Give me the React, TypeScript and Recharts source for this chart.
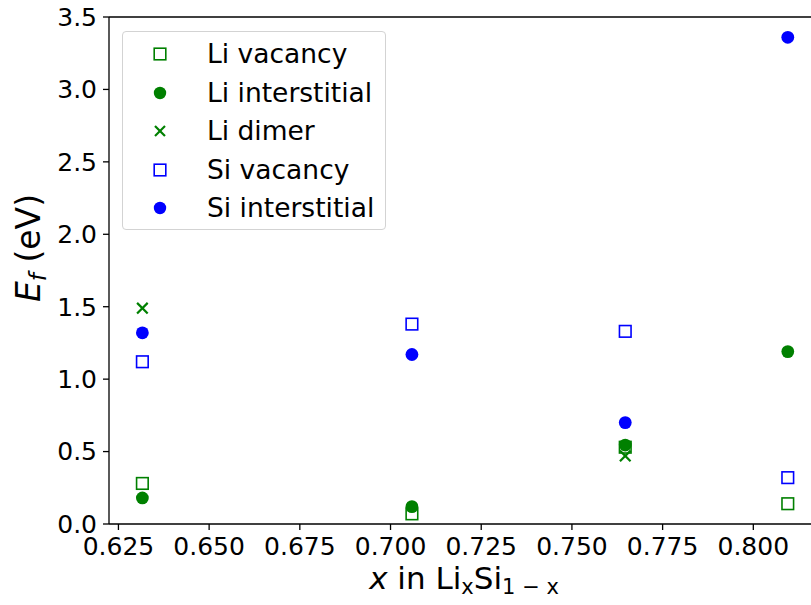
import React from "react";
import {
  ScatterChart,
  Scatter,
  XAxis,
  YAxis,
  ReferenceLine,
} from "recharts";

// x = Li fraction in LixSi1-x
const compositions = [0.6316, 0.7059, 0.7647, 0.8095];
const liVacancy = [0.28, 0.07, 0.53, 0.14];
const liInterstitial = [0.18, 0.12, 0.545, 1.19];
const liDimer: (number | null)[] = [1.49, null, 0.47, null];
const siVacancy = [1.12, 1.38, 1.33, 0.32];
const siInterstitial = [1.32, 1.17, 0.70, 3.36];

const xTicks = [0.625, 0.65, 0.675, 0.7, 0.725, 0.75, 0.775, 0.8];
const yTicks = [0, 0.5, 1.0, 1.5, 2.0, 2.5, 3.0, 3.5];

const GREEN = "#008000";
const BLUE = "#0000ff";
const FONT = "DejaVu Sans";

const toPoints = (vals: (number | null)[]) =>
  compositions
    .map((x, i) => ({ x, y: vals[i] }))
    .filter((p) => p.y !== null && p.y !== undefined);

const makeSquare = (color: string) => (props: any) => {
  const { cx, cy } = props;
  if (cx == null || cy == null) return <g />;
  return (
    <rect
      x={cx - 5.8}
      y={cy - 5.8}
      width={11.6}
      height={11.6}
      fill="none"
      stroke={color}
      strokeWidth={1.6}
    />
  );
};

const makeCircle = (color: string) => (props: any) => {
  const { cx, cy } = props;
  if (cx == null || cy == null) return <g />;
  return <circle cx={cx} cy={cy} r={6.4} fill={color} />;
};

const makeCross = (color: string) => (props: any) => {
  const { cx, cy } = props;
  if (cx == null || cy == null) return <g />;
  const s = 5.3;
  return (
    <g stroke={color} strokeWidth={2.2}>
      <line x1={cx - s} y1={cy - s} x2={cx + s} y2={cy + s} />
      <line x1={cx - s} y1={cy + s} x2={cx + s} y2={cy - s} />
    </g>
  );
};

const series = [
  { name: "Li vacancy", data: liVacancy, color: GREEN, kind: "square" },
  { name: "Li interstitial", data: liInterstitial, color: GREEN, kind: "circle" },
  { name: "Li dimer", data: liDimer, color: GREEN, kind: "cross" },
  { name: "Si vacancy", data: siVacancy, color: BLUE, kind: "square" },
  { name: "Si interstitial", data: siInterstitial, color: BLUE, kind: "circle" },
];

const shapeFor = (kind: string, color: string) =>
  kind === "square"
    ? makeSquare(color)
    : kind === "circle"
    ? makeCircle(color)
    : makeCross(color);

const LegendIcon = ({ kind, color }: { kind: string; color: string }) => (
  <svg width={16} height={16} style={{ display: "block" }}>
    {kind === "square" && (
      <rect x={2.2} y={2.2} width={11.6} height={11.6} fill="none" stroke={color} strokeWidth={1.6} />
    )}
    {kind === "circle" && <circle cx={8} cy={8} r={6.2} fill={color} />}
    {kind === "cross" && (
      <g stroke={color} strokeWidth={2.2}>
        <line x1={3} y1={3} x2={13} y2={13} />
        <line x1={3} y1={13} x2={13} y2={3} />
      </g>
    )}
  </svg>
);

const XLabel = () => (
  <text
    x={464}
    y={589}
    textAnchor="middle"
    fontSize={31}
    fontFamily={FONT}
    fill="#000"
  >
    <tspan fontStyle="italic">x</tspan>
    <tspan> in Li</tspan>
    <tspan fontSize={21} dy={5}>x</tspan>
    <tspan dy={-5}>Si</tspan>
    <tspan fontSize={21} dy={5}>1 − x</tspan>
  </text>
);

const YLabel = () => (
  <text
    x={0}
    y={0}
    transform="translate(40, 248) rotate(-90)"
    textAnchor="middle"
    fontSize={33}
    fontFamily={FONT}
    fill="#000"
  >
    <tspan fontStyle="italic">E</tspan>
    <tspan fontStyle="italic" fontSize={23} dy={6}>f</tspan>
    <tspan dy={-6}> (eV)</tspan>
  </text>
);

export default function App() {
  return (
    <div
      style={{
        position: "absolute",
        left: 0,
        top: 0,
        width: 811,
        height: 605,
        overflow: "hidden",
        background: "#fff",
      }}
    >
      <ScatterChart
        width={811}
        height={605}
        margin={{ top: 17, right: 0, bottom: 0, left: 0 }}
      >
        <XAxis
          type="number"
          dataKey="x"
          domain={[0.6224, 0.8159]}
          allowDataOverflow
          ticks={xTicks}
          tickFormatter={(v: number) => v.toFixed(3)}
          height={81}
          tickSize={6}
          tickMargin={7}
          stroke="#000"
          strokeWidth={1.3}
          tick={{ fontSize: 25, fontFamily: FONT, fill: "#000" }}
          label={<XLabel />}
        />
        <YAxis
          type="number"
          dataKey="y"
          domain={[0, 3.5]}
          allowDataOverflow
          ticks={yTicks}
          tickFormatter={(v: number) => v.toFixed(1)}
          width={109}
          tickSize={6}
          tickMargin={6}
          stroke="#000"
          strokeWidth={1.3}
          tick={{ fontSize: 25, fontFamily: FONT, fill: "#000" }}
          label={<YLabel />}
        />
        <ReferenceLine y={3.5} stroke="#000" strokeWidth={1.3} />
        {series.map((s) => (
          <Scatter
            key={s.name}
            name={s.name}
            data={toPoints(s.data)}
            fill={s.color}
            shape={shapeFor(s.kind, s.color)}
            isAnimationActive={false}
          />
        ))}
      </ScatterChart>
      <div
        style={{
          position: "absolute",
          left: 122,
          top: 31,
          width: 264,
          height: 199,
          border: "1px solid #d3d3d3",
          borderRadius: 4,
          background: "rgba(255,255,255,0.8)",
          boxSizing: "border-box",
          fontFamily: FONT,
          fontSize: 26.5,
          color: "#000",
        }}
      >
        {series.map((s, i) => (
          <div
            key={s.name}
            style={{
              position: "absolute",
              left: 0,
              top: 22 + i * 38.5 - 14,
              height: 28,
              whiteSpace: "nowrap",
            }}
          >
            <div style={{ position: "absolute", left: 29, top: 6 }}>
              <LegendIcon kind={s.kind} color={s.color} />
            </div>
            <span style={{ position: "absolute", left: 84, lineHeight: "28px", top: 0 }}>
              {s.name}
            </span>
          </div>
        ))}
      </div>
    </div>
  );
}
